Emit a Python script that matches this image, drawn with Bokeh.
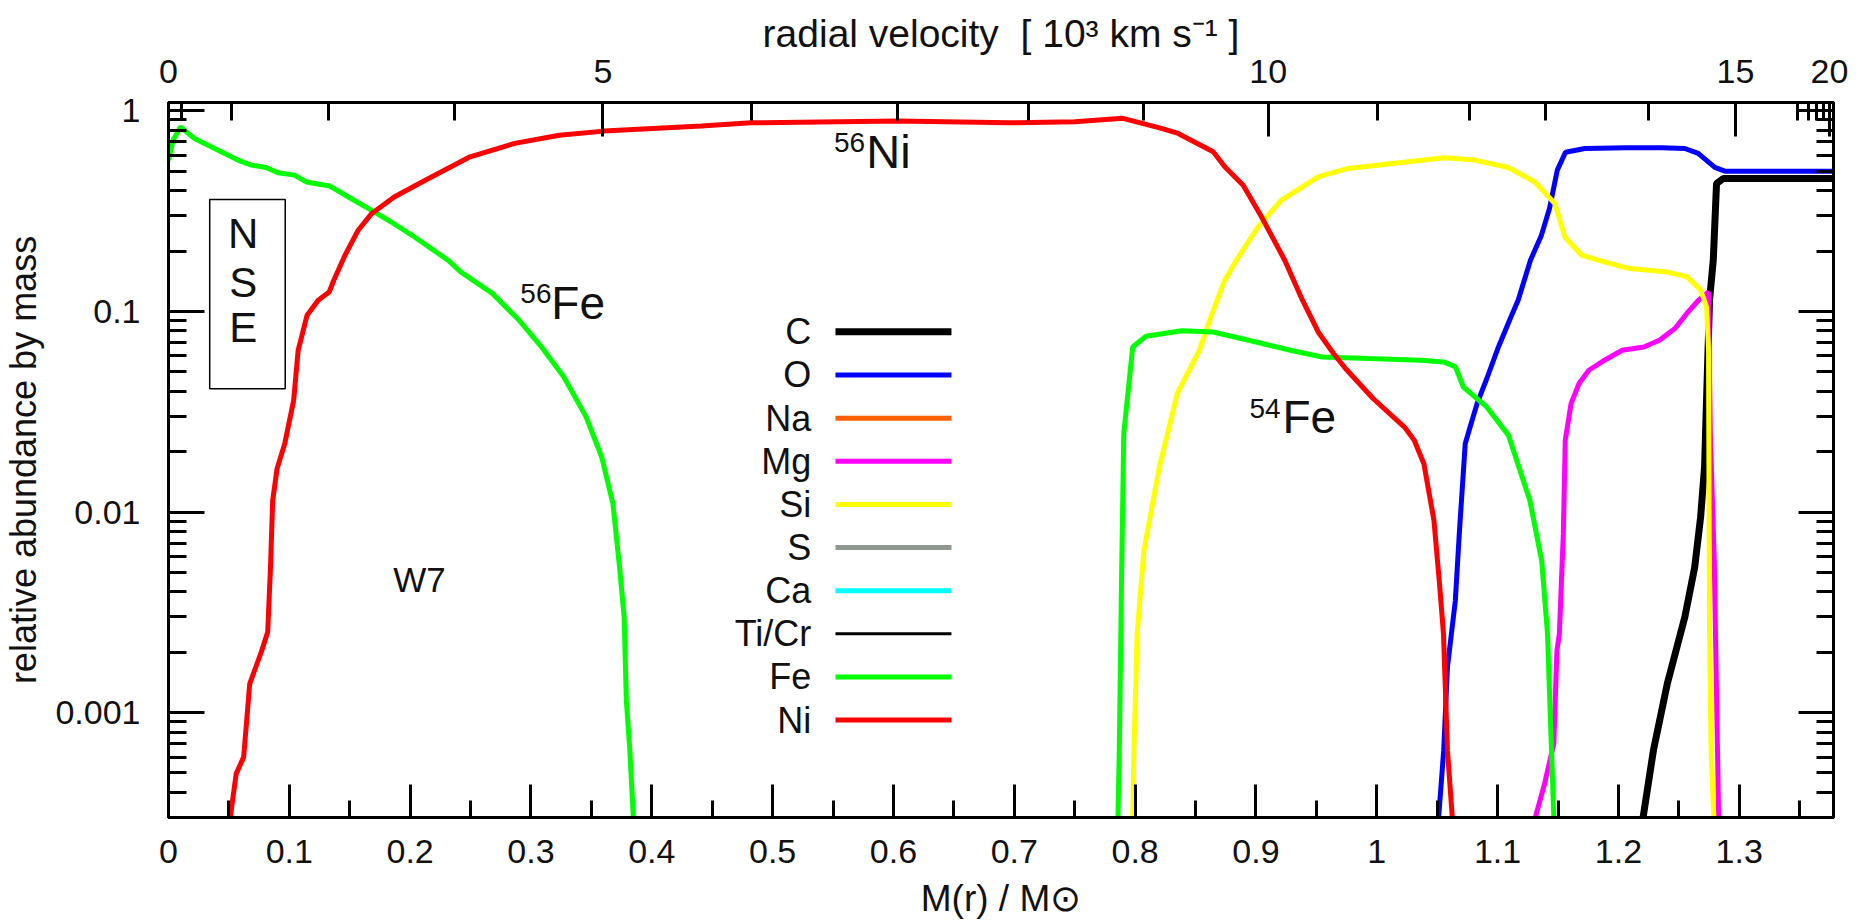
import math
from bokeh.plotting import figure
from bokeh.models import (Range1d, LinearAxis, LogAxis, FixedTicker, Label,
                          BoxAnnotation, ColumnDataSource)
from bokeh.core.properties import value
from bokeh.embed import file_html
from bokeh.resources import INLINE

NAN = float("nan")

# ---------------- data ----------------
# mass coordinate M(r)/Msun and relative abundance by mass
c_mass = [1.2195, 1.2204, 1.2290, 1.2404, 1.2550, 1.2631, 1.2680, 1.2713, 1.2721,
          1.2754, 1.2785, 1.2812, 1.2868, 1.3780]
c_ab = [2.0e-4, 3.0e-4, 6.5e-4, 1.39e-3, 3.0e-3, 5.3e-3, 9.4e-3, 0.0168, 0.0246,
        0.1137, 0.18, 0.434, 0.46, 0.46]

o_mass = [1.0505, 1.0512, 1.0554, 1.0585, 1.0650, 1.0683, 1.0732, 1.0764, 1.0830,
          1.0911, 1.1007, 1.1105, 1.1170, 1.1272, 1.1363, 1.1430, 1.1494, 1.1562,
          1.1722, 1.2067, 1.2357, 1.2550, 1.2660, 1.2798, 1.2880, 1.3780]
o_ab = [2.0e-4, 3.0e-4, 6.5e-4, 1.69e-3, 3.6e-3, 7.8e-3, 0.0219, 0.0255, 0.0347,
        0.0463, 0.0665, 0.0922, 0.1137, 0.18, 0.24, 0.327, 0.506, 0.621,
        0.649, 0.655, 0.655, 0.649, 0.613, 0.522, 0.5, 0.5]

mg_mass = [1.1305, 1.1312, 1.1388, 1.1465, 1.1491, 1.1511, 1.1544, 1.1560, 1.1608,
           1.1674, 1.1755, 1.1885, 1.2031, 1.2210, 1.2339, 1.2468, 1.2566, 1.2663,
           1.2745, 1.2761, 1.2793, 1.2820, 1.2829, 1.2832]
mg_ab = [2.0e-4, 3.0e-4, 4.4e-4, 7.0e-4, 2.04e-3, 2.47e-3, 7.8e-3, 0.0228, 0.0347,
         0.0437, 0.0509, 0.0571, 0.064, 0.0665, 0.0718, 0.0822, 0.0977, 0.1137,
         0.125, 0.0246, 5.7e-3, 6.5e-4, 3.0e-4, 2.0e-4]

si_mass = [0.7975, 0.7980, 0.7990, 0.8017, 0.8072, 0.8201, 0.8349, 0.8532, 0.8627,
           0.8738, 0.8838, 0.9018, 0.9211, 0.9515, 0.9763, 1.0260, 1.0563, 1.0811,
           1.1088, 1.1308, 1.1474, 1.1556, 1.1694, 1.1833, 1.2080, 1.2404, 1.2566,
           1.2680, 1.2730, 1.2746, 1.2748, 1.2754, 1.2767, 1.2790, 1.2795]
si_ab = [2.0e-4, 3.0e-4, 6.5e-4, 2.47e-3, 6.4e-3, 0.0168, 0.039, 0.064, 0.094,
         0.1415, 0.18, 0.264, 0.359, 0.469, 0.516, 0.557, 0.583, 0.568,
         0.522, 0.442, 0.345, 0.235, 0.191, 0.18, 0.164, 0.157, 0.149,
         0.128, 0.105, 0.064, 0.0247, 2.48e-3, 6.5e-4, 3.0e-4, 2.0e-4]

fe_mass = [0.0, 0.0038, 0.0099, 0.0215, 0.0436, 0.0574, 0.0685, 0.0809, 0.0906,
           0.1043, 0.1140, 0.1333, 0.1485, 0.1678, 0.1843, 0.2036, 0.2313, 0.2421,
           0.2680, 0.2902, 0.3087, 0.3272, 0.3456, 0.3585, 0.3678, 0.3733, 0.3771,
           0.3789, 0.3818, 0.3847, 0.3850, NAN,
           0.7855, 0.7858, 0.7869, 0.7887, 0.7906, 0.7980, 0.8090, 0.8387, 0.8645,
           0.8940, 0.9286, 0.9547, 0.9936, 1.0358, 1.0554, 1.0652, 1.0716, 1.0910,
           1.1090, 1.1267, 1.1365, 1.1413, 1.1446, 1.1465, 1.1470]
fe_ab = [0.568, 0.714, 0.832, 0.728, 0.625, 0.568, 0.536, 0.522, 0.491,
         0.478, 0.442, 0.422, 0.373, 0.32, 0.279, 0.235, 0.18, 0.157,
         0.123, 0.0903, 0.0665, 0.0471, 0.0298, 0.0188, 0.011, 5.3e-3, 3.0e-3,
         1.15e-3, 6.5e-4, 3.0e-4, 2.0e-4, NAN,
         2.0e-4, 3.0e-4, 6.5e-4, 4.4e-3, 0.0246, 0.0665, 0.0752, 0.08, 0.079,
         0.0718, 0.064, 0.0593, 0.0582, 0.0571, 0.056, 0.0529, 0.042, 0.0334,
         0.0241, 0.0114, 5.7e-3, 2.47e-3, 6.5e-4, 3.0e-4, 2.0e-4]

ni_mass = [0.0500, 0.0511, 0.0560, 0.0622, 0.0672, 0.0772, 0.0821, 0.0844, 0.0862,
           0.0899, 0.0962, 0.1036, 0.1073, 0.1147, 0.1239, 0.1330, 0.1368, 0.1461,
           0.1570, 0.1682, 0.1868, 0.2125, 0.2496, 0.2865, 0.3234, 0.3604, 0.4410,
           0.4823, 0.6038, 0.6949, 0.7500, 0.7900, 0.8218, 0.8356, 0.8646, 0.8742,
           0.8894, 0.9046, 0.9238, 0.9385, 0.9515, 0.9642, 0.9741, 0.9969, 1.0229,
           1.0310, 1.0390, 1.0473, 1.0519, 1.0552, 1.0585, 1.0625, 1.0630]
ni_ab = [2.0e-4, 3.0e-4, 4.95e-4, 6.0e-4, 1.39e-3, 2.04e-3, 2.52e-3, 5.3e-3, 0.0114,
         0.0165, 0.0219, 0.0361, 0.064, 0.0958, 0.1137, 0.125, 0.143, 0.1906,
         0.254, 0.308, 0.372, 0.451, 0.59, 0.688, 0.756, 0.792, 0.839,
         0.871, 0.889, 0.871, 0.881, 0.917, 0.817, 0.771, 0.625, 0.526,
         0.426, 0.296, 0.18, 0.1137, 0.079, 0.0617, 0.0519, 0.0368, 0.0265,
         0.0228, 0.0174, 9.1e-3, 4.4e-3, 2.47e-3, 6.5e-4, 3.0e-4, 2.0e-4]

# Na, S, Ca, Ti/Cr stay below the plotted range (legend entries only)
legend_names = ["C", "O", "Na", "Mg", "Si", "S", "Ca", "Ti/Cr", "Fe", "Ni"]
legend_colors = ["#000000", "#0000ff", "#ff6000", "#ff00ff", "#ffff00",
                 "#8e988e", "#00ffff", "#000000", "#00ff00", "#ff0000"]

# bottom axis ticks
mass_ticks = [0.0, 0.1, 0.2, 0.3, 0.4, 0.5, 0.6, 0.7, 0.8, 0.9, 1.0, 1.1, 1.2, 1.3]
mass_tick_labels = ["0", "0.1", "0.2", "0.3", "0.4", "0.5", "0.6", "0.7", "0.8",
                    "0.9", "1", "1.1", "1.2", "1.3"]
mass_minor = [0.05, 0.15, 0.25, 0.35, 0.45, 0.55, 0.65, 0.75, 0.85, 0.95,
              1.05, 1.15, 1.25, 1.35]

# left / right axis ticks
ab_ticks = [0.001, 0.01, 0.1, 1.0]
ab_tick_labels = ["0.001", "0.01", "0.1", "1"]

# top axis: radial velocity [1e3 km/s] and the mass coordinate where it sits
vel_values = [0, 1, 2, 3, 4, 5, 6, 7, 8, 9, 10, 11, 12, 13, 14, 15, 16, 17, 18, 19, 20]
vel_mass = [0.0, 0.0111, 0.0519, 0.1325, 0.2368, 0.3596, 0.4829, 0.6032, 0.7114,
            0.8066, 0.9101, 1.0003, 1.0770, 1.1397, 1.2252, 1.2969, 1.3483, 1.3574,
            1.3640, 1.3698, 1.3747]
vel_labelled = [0, 5, 10, 15, 20]

# ---------------- figure ----------------
FONT = "Liberation Sans"
TXT = "#111111"

p = figure(width=1865, height=922, output_backend="svg", toolbar_location=None,
           x_range=Range1d(0, 1.378), y_range=Range1d(3.0e-4, 1.1),
           y_axis_type="log",
           min_border_left=167, min_border_right=32,
           min_border_top=102, min_border_bottom=105)
p.grid.visible = False
p.outline_line_color = "black"
p.outline_line_width = 3
p.background_fill_color = "white"
p.border_fill_color = "white"


def style_axis(ax, major_len, minor_len):
    ax.axis_line_width = 3
    ax.axis_line_color = "black"
    ax.major_tick_in = major_len
    ax.major_tick_out = 0
    ax.minor_tick_in = minor_len
    ax.minor_tick_out = 0
    ax.major_tick_line_width = 3
    ax.minor_tick_line_width = 3
    ax.major_tick_line_color = "black"
    ax.minor_tick_line_color = "black"
    ax.major_label_text_font = FONT
    ax.major_label_text_font_size = "34px"
    ax.major_label_text_color = TXT
    ax.axis_label_text_font = FONT
    ax.axis_label_text_font_size = "36px"
    ax.axis_label_text_font_style = "normal"
    ax.axis_label_text_color = TXT


ab_minor = []
for e in (-4, -3, -2, -1):
    for k in range(2, 10):
        v = k * 10.0 ** e
        if 3.0e-4 <= v <= 1.1:
            ab_minor.append(v)

# bottom axis
xb = p.xaxis[0]
style_axis(xb, 33, 17)
xb.ticker = FixedTicker(ticks=mass_ticks, minor_ticks=mass_minor)
xb.major_label_overrides = {t: l for t, l in zip(mass_ticks, mass_tick_labels)}
xb.major_label_standoff = 22
xb.axis_label = "M(r) / M\u2299"
xb.axis_label_text_font_size = "37px"
xb.axis_label_standoff = 12

# left axis
yl = p.yaxis[0]
style_axis(yl, 36, 18)
yl.ticker = FixedTicker(ticks=ab_ticks, minor_ticks=ab_minor)
yl.major_label_overrides = {t: l for t, l in zip(ab_ticks, ab_tick_labels)}
yl.major_label_standoff = 28
yl.axis_label = "relative abundance by mass"
yl.axis_label_standoff = 8

# right axis (ticks only)
yr = LogAxis(ticker=FixedTicker(ticks=ab_ticks, minor_ticks=ab_minor))
style_axis(yr, 35, 17)
yr.major_label_overrides = {t: "" for t in ab_ticks}
yr.major_label_standoff = 0
p.add_layout(yr, "right")

# top axis: radial velocity
top_major = [m for v, m in zip(vel_values, vel_mass) if v in vel_labelled]
top_minor = [m for v, m in zip(vel_values, vel_mass) if v not in vel_labelled]
xt = LinearAxis(ticker=FixedTicker(ticks=top_major, minor_ticks=top_minor))
style_axis(xt, 34, 18)
xt.major_label_overrides = {m: str(v) for v, m in zip(vel_values, vel_mass)
                            if v in vel_labelled}
xt.major_label_standoff = 20
xt.axis_label = "radial velocity\u00a0\u00a0[ 10\u00b3 km s\u207b\u00b9 ]"
xt.axis_label_text_font_size = "39px"
xt.axis_label_standoff = 2
p.add_layout(xt, "above")

# ---------------- curves ----------------
p.line(c_mass, c_ab, line_color=legend_colors[0], line_width=7)
p.line(o_mass, o_ab, line_color=legend_colors[1], line_width=5)
p.line(mg_mass, mg_ab, line_color=legend_colors[3], line_width=5)
p.line(si_mass, si_ab, line_color=legend_colors[4], line_width=5)
p.line(fe_mass, fe_ab, line_color=legend_colors[8], line_width=5)
p.line(ni_mass, ni_ab, line_color=legend_colors[9], line_width=5)

# ---------------- manual legend (label left, line right) ----------------
LEG_TOP_DEC = -1.102      # log10 position of first row
LEG_STEP_DEC = 0.215      # row pitch in decades
LEG_X_TEXT = 0.532
LEG_X0, LEG_X1 = 0.552, 0.648
legend_widths = [7, 5, 5, 5, 5, 5, 5, 3, 5, 5]
leg_y = [10 ** (LEG_TOP_DEC - i * LEG_STEP_DEC) for i in range(len(legend_names))]
leg_src = ColumnDataSource(dict(
    name=legend_names, color=legend_colors, width=legend_widths, y=leg_y,
    xt=[LEG_X_TEXT] * len(legend_names),
    x0=[LEG_X0] * len(legend_names), x1=[LEG_X1] * len(legend_names)))
p.segment(x0="x0", y0="y", x1="x1", y1="y", line_color="color",
          line_width="width", source=leg_src)
p.text(x="xt", y="y", text="name", source=leg_src, text_align="right",
       text_baseline="middle", text_font=value(FONT),
       text_font_size=value("36px"), text_color=TXT)

# ---------------- annotations ----------------
def add_label(x, y, text, size, align="left", font=FONT):
    p.add_layout(Label(x=x, y=y, text=text, text_font=font, text_font_size=size,
                       text_align=align, text_baseline="middle",
                       text_color=TXT))


add_label(0.5508, 0.6925, "56", "28px")
add_label(0.5775, 0.6295, "Ni", "47px")
add_label(0.2912, 0.1225, "56", "28px")
add_label(0.3168, 0.1105, "Fe", "46px")
add_label(0.8946, 0.03271, "54", "28px")
add_label(0.9219, 0.02984, "Fe", "46px")
add_label(0.186, 4.605e-3, "W7", "35px")

p.add_layout(BoxAnnotation(left=0.0341, right=0.0966, bottom=0.0412, top=0.361,
                           fill_alpha=0, line_color="black", line_alpha=1.0,
                           line_width=1.5))
add_label(0.0618, 0.2455, "N", "42px", "center")
add_label(0.0618, 0.1398, "S", "42px", "center")
add_label(0.0618, 0.0829, "E", "42px", "center")

open("out.html", "w").write(file_html(p, INLINE))
